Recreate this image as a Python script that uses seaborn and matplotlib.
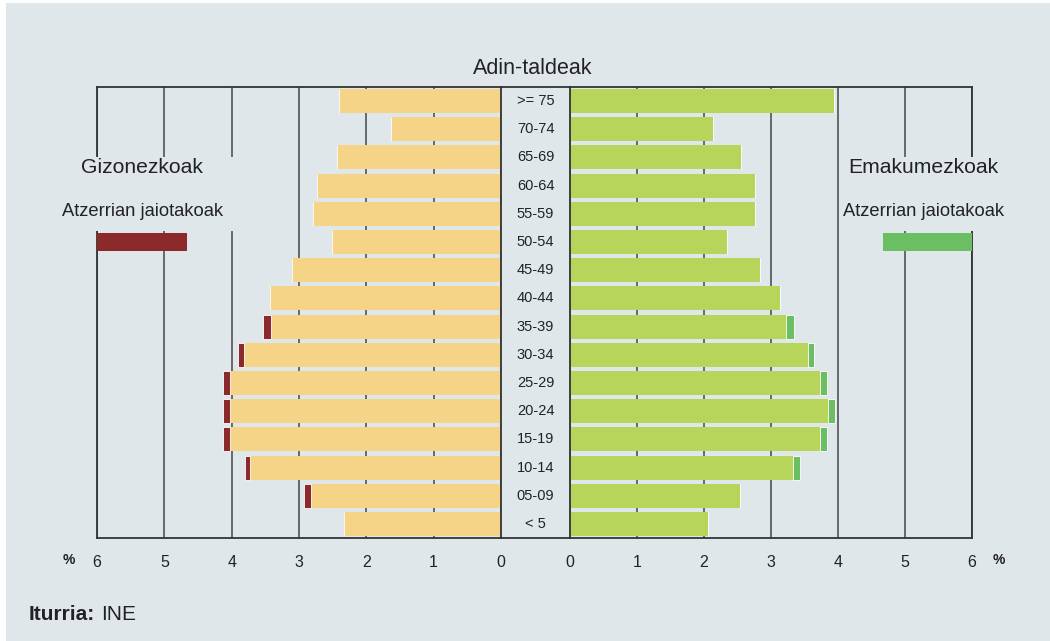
import matplotlib.pyplot as plt
import pandas as pd
import seaborn as sns
from matplotlib.patches import Rectangle

# Data (percent of population by age group)
ages = [">= 75", "70-74", "65-69", "60-64", "55-59", "50-54", "45-49", "40-44",
        "35-39", "30-34", "25-29", "20-24", "15-19", "10-14", "05-09", "< 5"]
men_native = [2.41, 1.63, 2.44, 2.73, 2.79, 2.51, 3.10, 3.43,
              3.42, 3.82, 4.03, 4.03, 4.03, 3.73, 2.82, 2.33]
men_foreign = [0, 0, 0, 0, 0, 0, 0, 0,
               0.11, 0.09, 0.10, 0.10, 0.10, 0.07, 0.10, 0]
women_native = [3.94, 2.14, 2.55, 2.76, 2.76, 2.35, 2.83, 3.13,
                3.23, 3.55, 3.73, 3.85, 3.73, 3.33, 2.54, 2.06]
women_foreign = [0, 0, 0, 0, 0, 0, 0, 0,
                 0.12, 0.09, 0.10, 0.10, 0.10, 0.10, 0, 0]
ticks = [0, 1, 2, 3, 4, 5, 6]
legend_len = 1.33

df = pd.DataFrame({"age": ages, "men": men_native, "men_f": men_foreign,
                   "women": women_native, "women_f": women_foreign})

bg = "#e0e7eb"
yellow = "#f5d487"
red = "#8c2a2b"
lgreen = "#b7d55b"
dgreen = "#6bbe62"
grid_c = "#66696c"
dark = "#333333"
txt = "#222222"

sns.set_style("white")
plt.rcParams["font.family"] = ["Liberation Sans", "DejaVu Sans"]

W, H = 1050, 641
fig = plt.figure(figsize=(W / 100, H / 100), dpi=100, facecolor="white")
fig.patches.append(Rectangle((6 / W, 0), 1, (H - 3) / H, transform=fig.transFigure,
                             facecolor=bg, edgecolor="none", zorder=-10))

bot = (H - 538) / H
hgt = 451 / H
axl = fig.add_axes([97 / W, bot, 404 / W, hgt])
axc = fig.add_axes([501 / W, bot, 69 / W, hgt])
axr = fig.add_axes([570 / W, bot, 402 / W, hgt])

for ax in (axl, axc, axr):
    ax.set_facecolor("none")
    for s in ax.spines.values():
        s.set_color(dark)
        s.set_linewidth(1.3)

# men
sns.barplot(data=df, x="men", y="age", color=yellow, saturation=1, width=0.85,
            linewidth=0, ax=axl, orient="h", zorder=2)
axl.barh(range(len(ages)), df["men_f"], left=df["men"], height=0.85, color=red,
         edgecolor="white", linewidth=0.6, zorder=2)
axl.set_xlim(6, 0)

# women (right scale is a bit wider: the frame stops just short of 6)
sns.barplot(data=df, x="women", y="age", color=lgreen, saturation=1, width=0.85,
            linewidth=0, ax=axr, orient="h", zorder=2)
axr.barh(range(len(ages)), df["women_f"], left=df["women"], height=0.85, color=dgreen,
         edgecolor="white", linewidth=0.6, zorder=2)
axr.set_xlim(0, 402 / 67.8)

for ax in (axl, axr):
    ax.set_ylim(15.5, -0.5)
    ax.set_xticks(ticks)
    ax.set_xticklabels([str(t) for t in ticks])
    ax.set_yticks([])
    ax.set_xlabel("")
    ax.set_ylabel("")
    ax.tick_params(axis="x", length=0, pad=12, labelsize=11.5, labelcolor=txt)
    ax.grid(axis="x", color=grid_c, linewidth=1.4)
    ax.set_axisbelow(True)

# centre labels
axc.set_ylim(15.5, -0.5)
axc.set_xlim(0, 1)
axc.set_xticks([])
axc.set_yticks([])
axc.spines["left"].set_visible(False)
axc.spines["right"].set_visible(False)
for i, a in enumerate(ages):
    axc.text(0.5, i, a, ha="center", va="center", fontsize=10.5, color=txt)

# masks behind the side labels + legend bars
rx = axr.get_xlim()[1]
axl.add_patch(Rectangle((6.1, 1.98), -2.4, 2.63, facecolor=bg, edgecolor="none",
                        zorder=2.7, clip_on=False))
axr.add_patch(Rectangle((4.06, 1.98), 2.2, 2.63, facecolor=bg, edgecolor="none",
                        zorder=2.7, clip_on=False))
axl.add_patch(Rectangle((6, 4.67), -legend_len, 0.66, facecolor=red, edgecolor="none",
                        zorder=3, clip_on=False))
axr.add_patch(Rectangle((rx - legend_len, 4.67), legend_len, 0.66, facecolor=dgreen,
                        edgecolor="none", zorder=3, clip_on=False))

axl.text(5.33, 2.34, "Gizonezkoak", ha="center", va="center", fontsize=15.2,
         color=txt, zorder=4, clip_on=False)
axl.text(5.33, 3.93, "Atzerrian jaiotakoak", ha="center", va="center", fontsize=13.2,
         color=txt, zorder=4, clip_on=False)
axr.text(5.27, 2.34, "Emakumezkoak", ha="center", va="center", fontsize=15.2,
         color=txt, zorder=4, clip_on=False)
axr.text(5.27, 3.93, "Atzerrian jaiotakoak", ha="center", va="center", fontsize=13.2,
         color=txt, zorder=4, clip_on=False)

fig.text(533 / W, 1 - 68 / H, "Adin-taldeak", ha="center", va="center",
         fontsize=15.5, color=txt)
fig.text(69 / W, 1 - 560 / H, "%", ha="center", va="center", fontsize=10,
         fontweight="bold", color=txt)
fig.text(999 / W, 1 - 560 / H, "%", ha="center", va="center", fontsize=10,
         fontweight="bold", color=txt)
fig.text(29 / W, 1 - 614 / H, "Iturria:", ha="left", va="center", fontsize=15,
         fontweight="bold", color=txt)
fig.text(101 / W, 1 - 614 / H, "INE", ha="left", va="center", fontsize=15, color=txt)

fig.savefig("out.png", dpi=100, facecolor="white")
